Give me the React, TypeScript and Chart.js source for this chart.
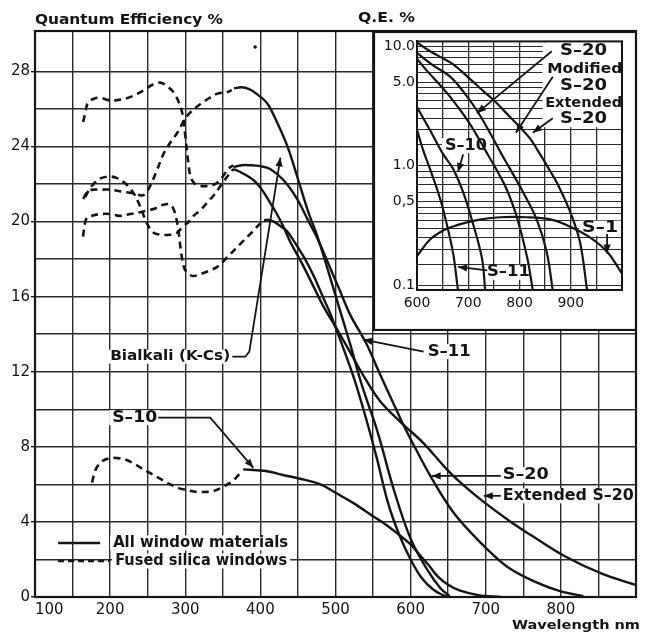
import React, { useEffect, useRef } from "react";
import { Chart, registerables } from "chart.js";

Chart.register(...registerables);

// ================= MAIN CHART DATA (wavelength nm, quantum efficiency %) =================
// Solid curves: all window materials
const bialkaliNm = [365, 375, 385, 395, 409, 422, 436, 449, 463, 476, 490, 505, 520, 535, 556, 577, 600, 623, 640, 652];
const bialkaliQE = [27.1, 27.15, 27.05, 26.8, 26.3, 25.3, 24.0, 22.4, 20.6, 19.2, 17.4, 15.4, 13.4, 11.3, 8.8, 5.8, 3.1, 1.4, 0.45, 0.05];

const s20Nm = [364, 375, 387, 400, 413, 431, 449, 463, 476, 490, 505, 520, 541, 560, 575, 590, 604, 627, 657, 693, 729, 769, 800, 830];
const s20QE = [22.9, 23.0, 23.0, 22.95, 22.8, 22.2, 21.2, 20.1, 19.1, 17.8, 16.4, 15.0, 13.5, 11.8, 10.5, 9.2, 8.1, 6.4, 4.5, 2.9, 1.6, 0.75, 0.3, 0.05];

const extS20Nm = [364, 375, 391, 402, 413, 422, 431, 440, 455, 470, 485, 500, 520, 540, 560, 587, 617, 653, 693, 737, 760, 804, 857, 900];
const extS20QE = [22.8, 22.6, 22.2, 21.7, 21.0, 20.4, 19.7, 18.9, 17.8, 16.6, 15.4, 14.4, 13.0, 11.6, 10.4, 9.3, 8.2, 6.6, 5.2, 3.9, 3.3, 2.2, 1.2, 0.64];

const s11Nm = [405, 409, 418, 425, 435, 444, 458, 471, 482, 493, 510, 525, 540, 555, 570, 585, 600, 615, 630, 642, 652];
const s11QE = [20.05, 20.1, 20.0, 19.8, 19.5, 19.0, 18.1, 17.1, 16.1, 15.1, 13.3, 11.6, 9.6, 7.4, 5.0, 3.3, 2.0, 1.0, 0.4, 0.12, 0];

const s10Nm = [377, 395, 409, 430, 453, 480, 500, 524, 550, 569, 585, 600, 613, 625, 636, 650, 665, 690, 720];
const s10QE = [6.8, 6.75, 6.7, 6.5, 6.3, 6.0, 5.55, 5.0, 4.3, 3.8, 3.3, 2.8, 2.2, 1.65, 1.1, 0.65, 0.35, 0.1, 0];

// Dashed curves: fused silica windows (UV extensions)
const fsBialkaliNm = [164, 170, 178, 190, 200, 215, 231, 244, 252, 262, 271, 280, 289, 302, 315, 329, 342, 356, 362];
const fsBialkaliQE = [21.2, 21.6, 21.7, 21.7, 21.7, 21.6, 21.5, 21.4, 21.8, 22.7, 23.6, 24.2, 24.7, 25.6, 26.1, 26.5, 26.8, 26.9, 27.0];

const fsS20Nm = [164, 167, 170, 176, 185, 200, 215, 231, 245, 257, 267, 276, 284, 291, 297, 300, 303, 307, 313, 320, 330, 340, 350, 357, 364];
const fsS20QE = [25.3, 25.8, 26.3, 26.5, 26.6, 26.45, 26.5, 26.7, 27.0, 27.3, 27.4, 27.2, 26.9, 26.4, 25.6, 24.6, 23.5, 22.4, 22.0, 21.9, 21.9, 22.0, 22.4, 22.8, 23.0];

const fsExtS20Nm = [167, 172, 178, 187, 200, 210, 218, 226, 233, 240, 249, 258, 267, 280, 289, 296, 305, 311, 320, 329, 338, 347, 356, 364];
const fsExtS20QE = [21.3, 21.7, 22.0, 22.3, 22.4, 22.3, 22.1, 21.8, 21.4, 20.8, 19.9, 19.4, 19.3, 19.3, 19.4, 19.7, 20.0, 20.3, 20.6, 21.0, 21.4, 21.9, 22.4, 22.8];

const fsS11Nm = [164, 166, 169, 175, 187, 200, 213, 227, 240, 250, 260, 271, 280, 286, 291, 294, 298, 302, 310, 320, 333, 343, 356, 373, 388, 400, 405];
const fsS11QE = [19.2, 19.8, 20.2, 20.3, 20.4, 20.4, 20.3, 20.4, 20.5, 20.6, 20.7, 20.9, 20.9, 20.5, 19.5, 18.5, 17.6, 17.3, 17.1, 17.2, 17.4, 17.6, 18.1, 18.8, 19.4, 19.9, 20.05];

const fsS10Nm = [176, 179, 183, 190, 200, 210, 218, 230, 240, 251, 262, 271, 280, 291, 302, 315, 329, 338, 347, 356, 364, 371, 377];
const fsS10QE = [6.1, 6.6, 6.95, 7.25, 7.4, 7.4, 7.35, 7.15, 6.9, 6.65, 6.4, 6.2, 6.0, 5.8, 5.7, 5.6, 5.6, 5.65, 5.8, 6.0, 6.2, 6.5, 6.7];

// small speck printed on the original sheet
const speckNm = [393];
const speckQE = [29.3];

// tick labels
const mainXLabels = [100, 200, 300, 400, 500, 600, 700, 800];
const mainYLabels = [0, 4, 8, 12, 16, 20, 24, 28];

// ================= INSET DATA (wavelength nm, Q.E. % on log scale) =================
const inExtNm = [600, 620, 640, 670, 700, 730, 748, 780, 801, 820, 840, 860, 873, 898, 918, 932];
const inExtQE = [10.8, 9.4, 8.4, 7.1, 5.5, 4.2, 3.6, 2.6, 2.1, 1.7, 1.25, 0.9, 0.72, 0.42, 0.23, 0.09];

const inModNm = [600, 630, 664, 690, 717, 742, 765, 781, 807, 834, 853, 865];
const inModQE = [8.8, 7.0, 5.6, 4.2, 2.9, 1.9, 1.25, 0.95, 0.6, 0.35, 0.19, 0.09];

const inS20Nm = [600, 620, 640, 660, 680, 700, 720, 740, 760, 776, 795, 815, 826];
const inS20QE = [7.85, 6.2, 5.0, 4.0, 3.1, 2.35, 1.7, 1.2, 0.85, 0.62, 0.37, 0.17, 0.09];

const inS10Nm = [600, 625, 651, 670, 690, 709, 727, 733];
const inS10QE = [3.1, 2.0, 1.25, 0.95, 0.6, 0.33, 0.166, 0.09];

const inS11Nm = [600, 612, 625, 640, 651, 670, 680];
const inS11QE = [2.0, 1.35, 0.95, 0.62, 0.43, 0.19, 0.09];

const inS1Nm = [600, 625, 650, 670, 717, 762, 815, 860, 898, 938, 971, 1000];
const inS1QE = [0.175, 0.24, 0.285, 0.31, 0.35, 0.37, 0.37, 0.355, 0.31, 0.25, 0.19, 0.125];

const insetGridValues = [0.1, 0.15, 0.2, 0.25, 0.3, 0.35, 0.4, 0.45, 0.5, 0.6, 0.7, 0.8, 0.9, 1, 1.5, 2, 2.5, 3, 3.5, 4, 4.5, 5, 6, 7, 8, 9, 10];
const insetYTickValues = [10, 5, 1, 0.5, 0.1];
const insetYTickLabels = ["10.0", "5.0", "1.0", "0,5", "0.1"];
const insetXLabels = [600, 700, 800, 900];

// ================= styling / layout =================
const INK = "#141414";
const GRID = "#2a2a2a";
const FONT = '"DejaVu Sans", "Liberation Sans", sans-serif';

type Pt = { x: number; y: number };
const pts = (xs: number[], ys: number[]): Pt[] => xs.map((x, i) => ({ x, y: ys[i] }));

function solid(label: string, xs: number[], ys: number[]) {
  return { label, data: pts(xs, ys), borderColor: INK, borderWidth: 2.4, pointRadius: 0, tension: 0.35, fill: false };
}
function dashed(label: string, xs: number[], ys: number[]) {
  return { ...solid(label, xs, ys), borderDash: [7, 5], borderWidth: 2.6 };
}

// annotation layout (in data coordinates): text left edge x, vertical middle y, target width px, font size
type Ann = { text: string; x: number; y: number; w: number; size: number };
const mainAnns: Ann[] = [
  { text: "Bialkali (K-Cs)", x: 200, y: 12.8, w: 120, size: 14 },
  { text: "S\u201311", x: 622.7, y: 13.07, w: 43, size: 15 },
  { text: "S\u201320", x: 722.7, y: 6.51, w: 46, size: 15 },
  { text: "Extended S\u201320", x: 722.7, y: 5.39, w: 131, size: 15 },
  { text: "S\u201310", x: 202.7, y: 9.55, w: 45, size: 15 },
  { text: "All window materials", x: 204, y: 2.88, w: 175, size: 15 },
  { text: "Fused silica windows", x: 206.7, y: 1.92, w: 172, size: 15 },
];
const mainLeaders: { path: [number, number][]; arrow: boolean }[] = [
  { path: [[362.7, 12.8], [380, 12.8], [385.3, 13.07], [426.7, 23.41]], arrow: true },
  { path: [[617.3, 13.07], [537.3, 13.71]], arrow: true },
  { path: [[720, 6.45], [628, 6.45]], arrow: true },
  { path: [[720, 5.39], [697.3, 5.39]], arrow: true },
  { path: [[264, 9.55], [333.3, 9.55], [390.7, 6.88]], arrow: true },
];
const legendSolid: [number, number][] = [[130.7, 2.88], [186.7, 2.88]];
const legendDashed: [number, number][] = [[130.7, 1.92], [200, 1.92]];

const insetAnns: Ann[] = [
  { text: "S\u201320", x: 879, y: 9.1, w: 47, size: 16 },
  { text: "Modified", x: 854, y: 6.47, w: 75, size: 14 },
  { text: "S\u201320", x: 879, y: 4.69, w: 47, size: 16 },
  { text: "Extended", x: 850, y: 3.33, w: 77, size: 14 },
  { text: "S\u201320", x: 879, y: 2.46, w: 47, size: 16 },
  { text: "S\u201310", x: 654.6, y: 1.47, w: 42, size: 15 },
  { text: "S\u20131", x: 922, y: 0.30, w: 36, size: 15 },
  { text: "S\u201311", x: 736.6, y: 0.128, w: 43, size: 15 },
];
const insetLeaders: { path: [number, number][]; arrow: boolean }[] = [
  { path: [[863, 9.1], [717, 2.76]], arrow: true },
  { path: [[865, 5.56], [793, 1.89]], arrow: true },
  { path: [[865, 2.5], [826, 1.89]], arrow: true },
  { path: [[690, 1.24], [680, 0.885]], arrow: true },
  { path: [[971, 0.268], [971, 0.184]], arrow: true },
  { path: [[737, 0.133], [680, 0.142]], arrow: true },
];

function fitText(ctx: CanvasRenderingContext2D, text: string, left: number, mid: number, size: number, width: number, bold = true) {
  ctx.save();
  ctx.font = `${bold ? "bold " : ""}${size}px ${FONT}`;
  const w = ctx.measureText(text).width || 1;
  ctx.translate(left, mid);
  ctx.scale(width / w, 1);
  ctx.textBaseline = "middle";
  ctx.textAlign = "left";
  ctx.fillStyle = INK;
  ctx.fillText(text, 0, 0);
  ctx.restore();
}

function arrowHead(ctx: CanvasRenderingContext2D, fx: number, fy: number, tx: number, ty: number) {
  const a = Math.atan2(ty - fy, tx - fx);
  const len = 9, half = 3.6;
  ctx.beginPath();
  ctx.moveTo(tx, ty);
  ctx.lineTo(tx - len * Math.cos(a) + half * Math.sin(a), ty - len * Math.sin(a) - half * Math.cos(a));
  ctx.lineTo(tx - len * Math.cos(a) - half * Math.sin(a), ty - len * Math.sin(a) + half * Math.cos(a));
  ctx.closePath();
  ctx.fill();
}

function drawLeaders(chart: any, leaders: { path: [number, number][]; arrow: boolean }[]) {
  const { ctx } = chart;
  const X = chart.scales.x, Y = chart.scales.y;
  ctx.save();
  ctx.strokeStyle = INK;
  ctx.fillStyle = INK;
  ctx.lineWidth = 1.8;
  for (const l of leaders) {
    const p = l.path.map(([x, y]) => [X.getPixelForValue(x), Y.getPixelForValue(y)]);
    ctx.beginPath();
    p.forEach(([px, py], i) => (i ? ctx.lineTo(px, py) : ctx.moveTo(px, py)));
    ctx.stroke();
    if (l.arrow) {
      const a = p[p.length - 2], b = p[p.length - 1];
      arrowHead(ctx, a[0], a[1], b[0], b[1]);
    }
  }
  ctx.restore();
}

function whiteBoxes(chart: any, anns: Ann[]) {
  const { ctx } = chart;
  const X = chart.scales.x, Y = chart.scales.y;
  ctx.save();
  ctx.fillStyle = "#fff";
  for (const a of anns) {
    const px = X.getPixelForValue(a.x), py = Y.getPixelForValue(a.y);
    ctx.fillRect(px - 3, py - a.size * 0.5, a.w + 6, a.size * 1.0);
  }
  ctx.restore();
}

function drawAnns(chart: any, anns: Ann[]) {
  const X = chart.scales.x, Y = chart.scales.y;
  for (const a of anns) fitText(chart.ctx, a.text, X.getPixelForValue(a.x), Y.getPixelForValue(a.y), a.size, a.w);
}

const mainDecor = {
  id: "mainDecor",
  beforeDatasetsDraw(chart: any) {
    whiteBoxes(chart, mainAnns);
  },
  afterDraw(chart: any) {
    const { ctx, chartArea: ca } = chart;
    const X = chart.scales.x, Y = chart.scales.y;
    ctx.save();
    ctx.strokeStyle = INK;
    ctx.lineWidth = 2.2;
    ctx.strokeRect(ca.left, ca.top, ca.right - ca.left, ca.bottom - ca.top);
    // legend samples
    ctx.lineWidth = 2.4;
    ctx.beginPath();
    ctx.moveTo(X.getPixelForValue(legendSolid[0][0]), Y.getPixelForValue(legendSolid[0][1]));
    ctx.lineTo(X.getPixelForValue(legendSolid[1][0]), Y.getPixelForValue(legendSolid[1][1]));
    ctx.stroke();
    ctx.setLineDash([6, 4]);
    ctx.beginPath();
    ctx.moveTo(X.getPixelForValue(legendDashed[0][0]), Y.getPixelForValue(legendDashed[0][1]));
    ctx.lineTo(X.getPixelForValue(legendDashed[1][0]), Y.getPixelForValue(legendDashed[1][1]));
    ctx.stroke();
    ctx.setLineDash([]);
    ctx.restore();
    drawLeaders(chart, mainLeaders);
    drawAnns(chart, mainAnns);
    fitText(ctx, "Quantum Efficiency %", 35, 20, 14, 188);
    fitText(ctx, "Q.E. %", 358, 18, 14, 57);
    fitText(ctx, "Wavelength nm", 512, 626, 13, 128);
  },
};

const insetDecor = {
  id: "insetDecor",
  beforeDraw(chart: any) {
    const { ctx, width, height } = chart;
    ctx.save();
    ctx.fillStyle = "#fff";
    ctx.fillRect(0, 0, width, height);
    ctx.restore();
  },
  beforeDatasetsDraw(chart: any) {
    const { ctx, chartArea: ca } = chart;
    const X = chart.scales.x, Y = chart.scales.y;
    ctx.save();
    ctx.fillStyle = "#fff";
    const l = X.getPixelForValue(845);
    const b = Y.getPixelForValue(2.1);
    ctx.fillRect(l, ca.top + 1, ca.right - 1 - l, b - ca.top - 1);
    ctx.restore();
    whiteBoxes(chart, insetAnns.slice(5));
  },
  afterDraw(chart: any) {
    const { ctx, chartArea: ca, width, height } = chart;
    ctx.save();
    ctx.strokeStyle = INK;
    ctx.lineWidth = 2.2;
    ctx.strokeRect(1, 1, width - 2, height - 2);
    ctx.lineWidth = 2;
    ctx.strokeRect(ca.left, ca.top, ca.right - ca.left, ca.bottom - ca.top);
    ctx.restore();
    drawLeaders(chart, insetLeaders);
    drawAnns(chart, insetAnns);
  },
};

export default function App() {
  const mainRef = useRef<HTMLCanvasElement>(null);
  const insetRef = useRef<HTMLCanvasElement>(null);

  useEffect(() => {
    const tickFont = { family: FONT, size: 15 };
    const main = new Chart(mainRef.current as HTMLCanvasElement, {
      type: "line",
      data: {
        datasets: [
          solid("Bialkali (K-Cs)", bialkaliNm, bialkaliQE),
          solid("S-20", s20Nm, s20QE),
          solid("Extended S-20", extS20Nm, extS20QE),
          solid("S-11", s11Nm, s11QE),
          solid("S-10", s10Nm, s10QE),
          dashed("Bialkali fused silica", fsBialkaliNm, fsBialkaliQE),
          dashed("S-20 fused silica", fsS20Nm, fsS20QE),
          dashed("Extended S-20 fused silica", fsExtS20Nm, fsExtS20QE),
          dashed("S-11 fused silica", fsS11Nm, fsS11QE),
          dashed("S-10 fused silica", fsS10Nm, fsS10QE),
          { label: "speck", data: pts(speckNm, speckQE), showLine: false, pointRadius: 1.8, pointBackgroundColor: INK, pointBorderWidth: 0 } as any,
        ],
      },
      options: {
        responsive: false,
        animation: false,
        events: [],
        layout: { padding: { top: 31, right: 14, left: 0, bottom: 0 } },
        plugins: { legend: { display: false }, tooltip: { enabled: false } },
        scales: {
          x: {
            type: "linear",
            min: 100,
            max: 900,
            afterFit: (s: any) => { s.height = 38; },
            ticks: {
              stepSize: 50, autoSkip: false, maxRotation: 0, align: "inner", padding: 4,
              color: INK, font: tickFont,
              callback: (v: any) => (mainXLabels.includes(Number(v)) ? String(v) : ""),
            },
            grid: { color: GRID, lineWidth: 1.4, drawTicks: false },
            border: { color: INK, width: 2 },
          },
          y: {
            type: "linear",
            min: 0,
            max: 30.15,
            afterFit: (s: any) => { s.width = 35; },
            ticks: {
              stepSize: 2, includeBounds: false, autoSkip: false, padding: 1,
              color: INK, font: tickFont,
              callback: (v: any) => (mainYLabels.includes(Number(v)) ? String(v) : ""),
            },
            grid: {
              color: (c: any) => (c.tick && c.tick.value > 29 ? "rgba(0,0,0,0)" : GRID),
              lineWidth: 1.4,
              tickLength: 4,
              tickColor: (c: any) => (c.tick && mainYLabels.includes(c.tick.value) ? INK : "rgba(0,0,0,0)"),
            },
            border: { color: INK, width: 2 },
          },
        },
      } as any,
      plugins: [mainDecor],
    });

    const inset = new Chart(insetRef.current as HTMLCanvasElement, {
      type: "line",
      data: {
        datasets: [
          solid("Extended S-20", inExtNm, inExtQE),
          solid("Modified S-20", inModNm, inModQE),
          solid("S-20", inS20Nm, inS20QE),
          solid("S-10", inS10Nm, inS10QE),
          solid("S-11", inS11Nm, inS11QE),
          solid("S-1", inS1Nm, inS1QE),
        ].map((d) => ({ ...d, borderWidth: 2.2 })),
      },
      options: {
        responsive: false,
        animation: false,
        events: [],
        layout: { padding: { top: 6, right: 15, left: 0, bottom: 0 } },
        plugins: { legend: { display: false }, tooltip: { enabled: false } },
        scales: {
          x: {
            type: "linear",
            min: 600,
            max: 1000,
            afterFit: (s: any) => { s.height = 41; },
            ticks: {
              stepSize: 50, autoSkip: false, maxRotation: 0, padding: 5,
              color: INK, font: { family: FONT, size: 14 },
              callback: (v: any) => (insetXLabels.includes(Number(v)) ? String(v) : ""),
            },
            grid: { color: GRID, lineWidth: 1.3, drawTicks: false },
            border: { color: INK, width: 2 },
          },
          y: {
            type: "logarithmic",
            min: 0.091,
            max: 11,
            afterFit: (s: any) => { s.width = 44; },
            afterBuildTicks: (s: any) => { s.ticks = insetGridValues.map((v) => ({ value: v })); },
            ticks: {
              autoSkip: false, padding: 2,
              color: INK, font: { family: FONT, size: 14 },
              callback: (v: any) => {
                const i = insetYTickValues.findIndex((t) => Math.abs(t - Number(v)) < 1e-9);
                return i >= 0 ? insetYTickLabels[i] : "";
              },
            },
            grid: { color: GRID, lineWidth: 1.1, drawTicks: false },
            border: { color: INK, width: 2 },
          },
        },
      } as any,
      plugins: [insetDecor],
    });

    return () => {
      main.destroy();
      inset.destroy();
    };
  }, []);

  return (
    <div style={{ position: "absolute", left: 0, top: 0, width: 650, height: 635, background: "#fff" }}>
      <canvas ref={mainRef} width={650} height={635} style={{ position: "absolute", left: 0, top: 0 }} />
      <canvas ref={insetRef} width={264} height={300} style={{ position: "absolute", left: 373, top: 31 }} />
    </div>
  );
}
